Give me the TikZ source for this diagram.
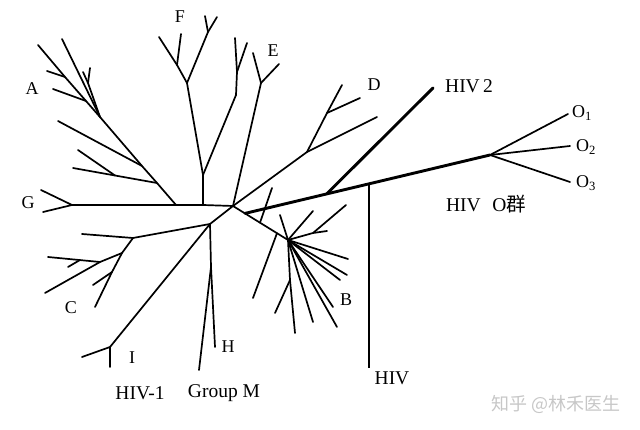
\documentclass[tikz,border=0pt]{standalone}
\usepackage{fontspec}
\setmainfont{Liberation Serif}
\newfontfamily\cjk{Noto Sans CJK SC}
\usetikzlibrary{calc}
\begin{document}
\begin{tikzpicture}[x=1pt,y=-1pt,
  br/.style={line width=1.7pt, line cap=round},
  thk/.style={line width=2.9pt, line cap=round},
  lab/.style={font=\fontsize{18}{20}\selectfont, inner sep=0pt},
  big/.style={font=\fontsize{19.5}{22}\selectfont, inner sep=0pt}]
\useasboundingbox (0,0) rectangle (640,430);
% ---- coordinates ----
\coordinate (ctr) at (233,206);
\coordinate (g1) at (72,205); \coordinate (g2) at (41,190); \coordinate (g3) at (43,212);
\coordinate (ar) at (176,205); \coordinate (fr) at (203,205);
% A
\coordinate (a1) at (100,117);
\coordinate (ab1) at (157,183); \coordinate (ab1e) at (73,168);
\coordinate (ab1s) at (115,175.5); \coordinate (ab1se) at (78,150);
\coordinate (ab2) at (142,166); \coordinate (ab2e) at (58,121);
\coordinate (a1e) at (62,39);
\coordinate (a2) at (86,101); \coordinate (a2e) at (38,45); \coordinate (a2t) at (65,77);
\coordinate (a2te) at (47,71); \coordinate (a2f) at (53,89);
\coordinate (a3) at (88,83); \coordinate (a3e) at (83,72); \coordinate (a3f) at (90,68);
% F
\coordinate (f1) at (203,175); \coordinate (f2) at (187,83); \coordinate (f3) at (236,95);
\coordinate (f4) at (177,65); \coordinate (f4e) at (159,37); \coordinate (f4f) at (181,34);
\coordinate (f5) at (208,32); \coordinate (f5e) at (205,16); \coordinate (f5f) at (217,17);
\coordinate (f6) at (237,72); \coordinate (f6e) at (235,38); \coordinate (f6f) at (247,43);
% E
\coordinate (e1) at (261,83); \coordinate (e1e) at (253,53); \coordinate (e1f) at (279,64);
% D
\coordinate (d1) at (307,152); \coordinate (d1e) at (377,117);
\coordinate (d2) at (327,113); \coordinate (d2e) at (342,85); \coordinate (d2f) at (360,98);
% thick branches
\coordinate (tb) at (245,213.4); \coordinate (o) at (490,155);
\coordinate (h2) at (327,193.6); \coordinate (h2e) at (433,88);
\coordinate (hv) at (369,183.6); \coordinate (hve) at (369,368);
\coordinate (o1) at (568,114); \coordinate (o2) at (570,146); \coordinate (o3) at (570,182);
% B
\coordinate (bh) at (288,240);
\coordinate (bx) at (260,222.7); \coordinate (bxe) at (272,188);
\coordinate (bl) at (277,233.2); \coordinate (ble) at (253,298);
\coordinate (b1) at (313,233); \coordinate (b1e) at (346,205); \coordinate (b1t) at (327,231);
\coordinate (b2) at (290,280); \coordinate (b2e) at (295,333); \coordinate (b2f) at (275,313);
% C, I, H
\coordinate (c1) at (210,224); \coordinate (c2) at (133,238); \coordinate (c2e) at (82,234);
\coordinate (c3) at (122,253); \coordinate (c5) at (100,262);
\coordinate (c5e) at (48,257); \coordinate (c5f) at (45,293);
\coordinate (ct) at (80,260); \coordinate (cte) at (68,267);
\coordinate (c4) at (112,272); \coordinate (c4e) at (95,307); \coordinate (c4f) at (93,285);
\coordinate (i1) at (110,347); \coordinate (i1e) at (82,357); \coordinate (i1f) at (110,367);
\coordinate (hh) at (211,267); \coordinate (hhe) at (215,347); \coordinate (hhf) at (199,370);
% ---- branches ----
\draw[br] (g2) -- (g1) -- (g3);
\draw[br] (g1) -- (ar) -- (fr) -- (ctr);
\draw[br] (ar) -- (ab1) -- (ab2) -- (a1) -- (a1e);
\draw[br] (ab1) -- (ab1s) -- (ab1e); \draw[br] (ab1s) -- (ab1se);
\draw[br] (ab2) -- (ab2e);
\draw[br] (a1) -- (a2) -- (a2t) -- (a2e); \draw[br] (a2t) -- (a2te); \draw[br] (a2) -- (a2f);
\draw[br] (a1) -- (a3) -- (a3e); \draw[br] (a3) -- (a3f);
\draw[br] (fr) -- (f1) -- (f2); \draw[br] (f1) -- (f3);
\draw[br] (f2) -- (f4) -- (f4e); \draw[br] (f4) -- (f4f);
\draw[br] (f2) -- (f5) -- (f5e); \draw[br] (f5) -- (f5f);
\draw[br] (f3) -- (f6) -- (f6e); \draw[br] (f6) -- (f6f);
\draw[br] (ctr) -- (e1) -- (e1e); \draw[br] (e1) -- (e1f);
\draw[br] (ctr) -- (d1) -- (d1e); \draw[br] (d1) -- (d2) -- (d2e); \draw[br] (d2) -- (d2f);
\draw[br] (ctr) -- (bh);
\draw[br] (bx) -- (bxe); \draw[br] (bl) -- (ble);
\draw[br] (bh) -- (280,215);
\draw[br] (bh) -- (313,211);
\draw[br] (bh) -- (b1) -- (b1e); \draw[br] (b1) -- (b1t);
\foreach \p in {(348,259),(347,275),(340,280),(333,307),(313,322),(337,327)}
  \draw[br] (bh) -- \p;
\draw[br] (bh) -- (b2) -- (b2e); \draw[br] (b2) -- (b2f);
\draw[br] (ctr) -- (c1) -- (c2) -- (c2e);
\draw[br] (c2) -- (c3) -- (c5) -- (c5e); \draw[br] (c5) -- (c5f); \draw[br] (ct) -- (cte);
\draw[br] (c3) -- (c4) -- (c4e); \draw[br] (c4) -- (c4f);
\draw[br] (c1) -- (i1) -- (i1e); \draw[br] (i1) -- (i1f);
\draw[br] (c1) -- (hh) -- (hhe); \draw[br] (hh) -- (hhf);
\draw[thk] (tb) -- (o);
\draw[thk] (h2) -- (h2e);
\draw[line width=2.4pt] (hv) -- (hve);
\draw[br] (o) -- (o1); \draw[br] (o) -- (o2); \draw[br] (o) -- (o3);
% ---- labels ----
\node[lab] (lA) at (32,89) {A};
\node[lab] (lG) at (28,203) {G};
\node[lab] (lF) at (180,17) {F};
\node[lab] (lE) at (273,51) {E};
\node[lab] (lD) at (374,85) {D};
\node[big] (lH2) at (469,86) {HIV\,2};
\node[lab] (lO1) at (582,113) {O\textsubscript{1}};
\node[lab] (lO2) at (586,147) {O\textsubscript{2}};
\node[lab] (lO3) at (586,183) {O\textsubscript{3}};
\node[big] (lOg) at (486,204) {HIV\hspace{0.6em}O{\cjk 群}};
\node[lab] (lC) at (71,308) {C};
\node[lab] (lI) at (132,358) {I};
\node[lab] (lH) at (228,347) {H};
\node[lab] (lB) at (346,300) {B};
\node[big] (lHIV) at (392,378) {HIV};
\node[big] (lH1) at (140,393) {HIV-1};
\node[big] (lGM) at (224,393) {Group M};
\node[inner sep=0pt, text=black!22, font=\cjk\fontsize{18}{20}\selectfont] (wm) at (556,404) {知乎 @林禾医生};
\end{tikzpicture}
\end{document}
